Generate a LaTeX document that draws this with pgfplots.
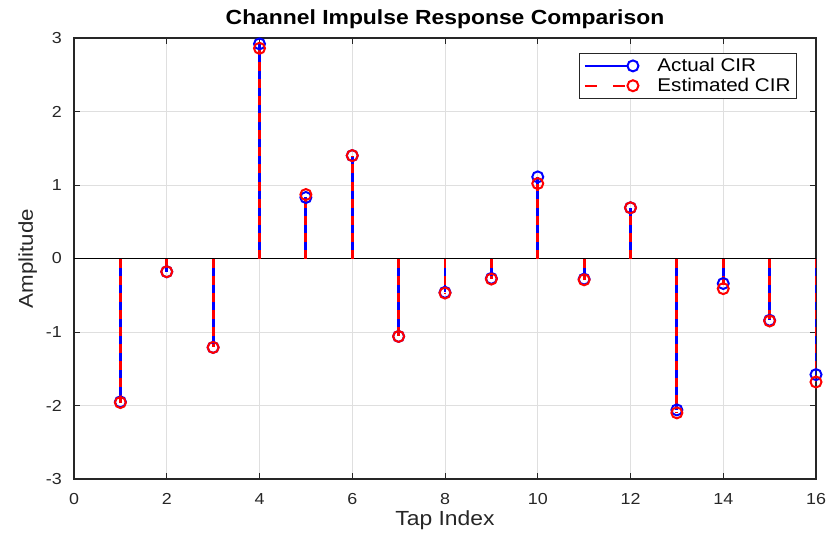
\documentclass[border=0pt]{standalone}
\usepackage{pgfplots}
\pgfplotsset{compat=1.18}
\usepackage{fontspec}
\setmainfont{Liberation Sans}[FakeStretch=1.12]
\definecolor{axgray}{HTML}{262626}
\definecolor{gridgray}{HTML}{DFDFDF}
\begin{document}
\begin{tikzpicture}
\useasboundingbox (-74bp,-56bp) rectangle (757bp,479bp);
\begin{axis}[
  scale only axis, width=742bp, height=441bp,
  xmin=0, xmax=16, ymin=-3, ymax=3,
  xtick={0,2,...,16}, ytick={-3,-2,...,3},
  xtick pos=both, ytick pos=both,
  xticklabel pos=left, yticklabel pos=left,
  grid=major, major grid style={gridgray, line width=0.8bp},
  axis line style={axgray, line width=1.2bp},
  tick style={axgray, line width=1bp},
  tick align=inside, major tick length=6bp,
  /pgf/number format/assume math mode=true,
  ticklabel style={font=\fontsize{16}{19}\selectfont, text=axgray},
  xticklabel style={inner sep=0pt, anchor=north, yshift=-14bp},
  yticklabel style={inner sep=0pt, anchor=east, xshift=-12bp},
  title={Channel Impulse Response Comparison},
  title style={font=\bfseries\fontsize{20.5}{24}\selectfont, at={(axis description cs:0.5,1)}, anchor=base, yshift=8bp, inner sep=0pt},
  xlabel={Tap Index}, ylabel={Amplitude},
  xlabel style={font=\fontsize{20.5}{24}\selectfont, text=axgray, at={(axis description cs:0.5,0)}, anchor=base, yshift=-46bp, inner sep=0pt},
  ylabel style={font=\fontsize{20}{24}\selectfont, text=axgray, at={(axis description cs:-0.0553,0.5)}, anchor=base, inner sep=0pt},
  legend style={at={(axis description cs:0.9744,0.966)}, anchor=north east, draw=axgray, line width=1bp, font=\fontsize{18.5}{22}\selectfont, inner xsep=4bp, inner ysep=3bp, row sep=1bp,
    /tikz/every odd column/.append style={column sep=16bp}},
  legend cell align=left,
]
\addplot[black, line width=1.5bp, forget plot] coordinates {(0,0) (16,0)};
\addplot[ycomb, blue, line width=2.8bp, mark=o, mark size=5.5bp, mark options={solid, line width=2bp},
  legend image code/.code={\draw[blue, solid, line width=2.2bp] (0bp,0bp) -- (43bp,0bp); \draw[blue, solid, line width=2bp] (48bp,0bp) circle (5.5bp);}]
coordinates {(1,-1.95) (2,-0.18) (3,-1.21) (4,2.92) (5,0.83) (6,1.40) (7,-1.06) (8,-0.46) (9,-0.27) (10,1.11) (11,-0.28) (12,0.69) (13,-2.06) (14,-0.34) (15,-0.84) (16,-1.58)};
\addlegendentry{Actual CIR}
\addplot[ycomb, red, line width=2.8bp, dash pattern=on 9bp off 8bp, mark=o, mark size=5.5bp, mark options={solid, line width=2bp},
  legend image code/.code={\draw[red, line width=2.2bp, dash pattern=on 12bp off 16bp] (0bp,0bp) -- (43bp,0bp); \draw[red, solid, line width=2bp] (48bp,0bp) circle (5.5bp);}]
coordinates {(1,-1.96) (2,-0.18) (3,-1.21) (4,2.86) (5,0.87) (6,1.40) (7,-1.06) (8,-0.47) (9,-0.28) (10,1.02) (11,-0.29) (12,0.69) (13,-2.10) (14,-0.41) (15,-0.85) (16,-1.68)};
\addlegendentry{Estimated CIR}
\end{axis}
\end{tikzpicture}
\end{document}
